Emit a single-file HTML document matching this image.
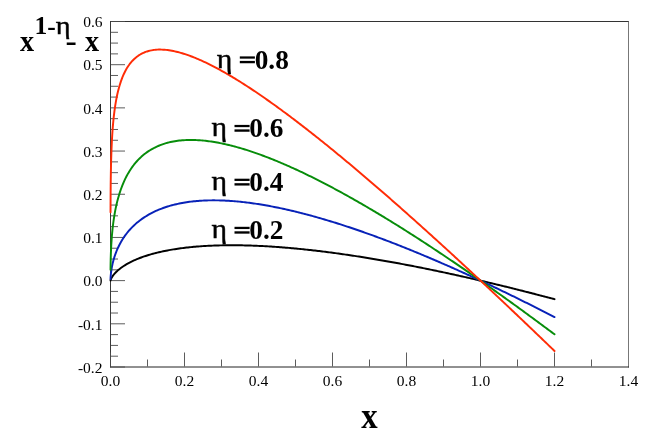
<!DOCTYPE html>
<html><head><meta charset="utf-8"><style>
html,body{margin:0;padding:0;background:#fff;}
svg{display:block;font-family:"Liberation Serif",serif;will-change:transform;opacity:0.9999;}
</style></head><body>
<svg width="654" height="444" viewBox="0 0 654 444">
<rect width="654" height="444" fill="#fff"/>
<line x1="110.0" y1="21.5" x2="629.0" y2="21.5" stroke="#333"/>
<line x1="628.5" y1="21.5" x2="628.5" y2="367.5" stroke="#777"/>
<line x1="110.0" y1="367.0" x2="629.0" y2="367.0" stroke="#222"/>
<line x1="110.5" y1="21.5" x2="110.5" y2="367.5" stroke="#3a3a3a"/>
<path d="M111.0,367.00h14 M111.0,356.20h7 M111.0,345.41h7 M111.0,334.61h7 M111.0,323.81h14 M111.0,313.02h7 M111.0,302.22h7 M111.0,291.42h7 M111.0,280.62h14 M111.0,269.83h7 M111.0,259.03h7 M111.0,248.23h7 M111.0,237.44h14 M111.0,226.64h7 M111.0,215.84h7 M111.0,205.05h7 M111.0,194.25h14 M111.0,183.45h7 M111.0,172.66h7 M111.0,161.86h7 M111.0,151.06h14 M111.0,140.27h7 M111.0,129.47h7 M111.0,118.67h7 M111.0,107.87h14 M111.0,97.08h7 M111.0,86.28h7 M111.0,75.48h7 M111.0,64.69h14 M111.0,53.89h7 M111.0,43.09h7 M111.0,32.30h7 M111.0,21.50h14 M110.50,366.5v-14 M147.50,366.5v-7 M184.50,366.5v-14 M221.50,366.5v-7 M258.50,366.5v-14 M295.50,366.5v-7 M332.50,366.5v-14 M369.50,366.5v-7 M406.50,366.5v-14 M443.50,366.5v-7 M480.50,366.5v-14 M517.50,366.5v-7 M554.50,366.5v-14 M591.50,366.5v-7" stroke="#4a4a4a" stroke-width="0.9" fill="none"/>
<path d="M110.54,280.40 L110.54,280.38 L110.54,280.36 L110.55,280.34 L110.55,280.32 L110.56,280.30 L110.56,280.28 L110.57,280.26 L110.58,280.23 L110.58,280.20 L110.59,280.17 L110.60,280.14 L110.61,280.11 L110.62,280.07 L110.63,280.03 L110.64,279.99 L110.66,279.95 L110.67,279.90 L110.69,279.85 L110.70,279.80 L110.72,279.74 L110.74,279.68 L110.77,279.61 L110.79,279.54 L110.82,279.47 L110.85,279.39 L110.88,279.31 L110.92,279.22 L110.96,279.12 L111.00,279.02 L111.05,278.91 L111.10,278.80 L111.15,278.67 L111.22,278.54 L111.28,278.41 L111.36,278.26 L111.44,278.10 L111.53,277.93 L111.62,277.76 L111.73,277.57 L111.84,277.37 L111.97,277.16 L112.11,276.93 L112.26,276.69 L112.42,276.44 L112.60,276.17 L112.80,275.89 L113.02,275.59 L113.26,275.27 L113.51,274.94 L113.80,274.58 L114.11,274.20 L114.45,273.81 L114.82,273.39 L115.22,272.95 L115.67,272.49 L116.15,272.00 L116.68,271.48 L117.26,270.94 L117.90,270.37 L119.36,269.15 L120.82,268.02 L122.28,266.98 L123.74,266.00 L125.20,265.07 L126.66,264.21 L128.12,263.38 L129.58,262.60 L131.04,261.85 L132.50,261.15 L133.96,260.47 L135.42,259.82 L136.88,259.20 L138.34,258.60 L139.80,258.03 L141.26,257.48 L142.72,256.95 L144.18,256.45 L145.64,255.96 L147.10,255.49 L148.56,255.04 L150.02,254.60 L151.48,254.18 L152.94,253.77 L154.41,253.38 L155.87,253.01 L157.33,252.64 L158.79,252.29 L160.25,251.95 L161.71,251.63 L163.17,251.31 L164.63,251.01 L166.09,250.72 L167.55,250.43 L169.01,250.16 L170.47,249.90 L171.93,249.64 L173.39,249.40 L174.85,249.17 L176.31,248.94 L177.77,248.72 L179.23,248.51 L180.69,248.31 L182.15,248.12 L183.61,247.94 L185.07,247.76 L186.53,247.59 L187.99,247.42 L189.45,247.27 L190.91,247.12 L192.37,246.98 L193.83,246.84 L195.29,246.71 L196.75,246.59 L198.21,246.47 L199.67,246.36 L201.13,246.25 L202.59,246.15 L204.05,246.06 L205.51,245.97 L206.97,245.89 L208.43,245.81 L209.89,245.74 L211.35,245.68 L212.81,245.61 L214.27,245.56 L215.73,245.51 L217.19,245.46 L218.65,245.42 L220.11,245.38 L221.57,245.35 L223.03,245.32 L224.49,245.30 L225.95,245.28 L227.42,245.26 L228.88,245.25 L230.34,245.25 L231.80,245.25 L233.26,245.25 L234.72,245.25 L236.18,245.26 L237.64,245.28 L239.10,245.30 L240.56,245.32 L242.02,245.34 L243.48,245.37 L244.94,245.41 L246.40,245.44 L247.86,245.48 L249.32,245.53 L250.78,245.57 L252.24,245.63 L253.70,245.68 L255.16,245.74 L256.62,245.80 L258.08,245.86 L259.54,245.93 L261.00,246.00 L262.46,246.07 L263.92,246.15 L265.38,246.23 L266.84,246.31 L268.30,246.40 L269.76,246.49 L271.22,246.58 L272.68,246.67 L274.14,246.77 L275.60,246.87 L277.06,246.98 L278.52,247.08 L279.98,247.19 L281.44,247.30 L282.90,247.42 L284.36,247.54 L285.82,247.66 L287.28,247.78 L288.74,247.90 L290.20,248.03 L291.66,248.16 L293.12,248.29 L294.58,248.43 L296.04,248.57 L297.50,248.71 L298.96,248.85 L300.43,249.00 L301.89,249.14 L303.35,249.29 L304.81,249.44 L306.27,249.60 L307.73,249.76 L309.19,249.92 L310.65,250.08 L312.11,250.24 L313.57,250.41 L315.03,250.57 L316.49,250.75 L317.95,250.92 L319.41,251.09 L320.87,251.27 L322.33,251.45 L323.79,251.63 L325.25,251.81 L326.71,252.00 L328.17,252.18 L329.63,252.37 L331.09,252.57 L332.55,252.76 L334.01,252.95 L335.47,253.15 L336.93,253.35 L338.39,253.55 L339.85,253.75 L341.31,253.96 L342.77,254.17 L344.23,254.37 L345.69,254.59 L347.15,254.80 L348.61,255.01 L350.07,255.23 L351.53,255.45 L352.99,255.67 L354.45,255.89 L355.91,256.11 L357.37,256.34 L358.83,256.56 L360.29,256.79 L361.75,257.02 L363.21,257.25 L364.67,257.49 L366.13,257.72 L367.59,257.96 L369.05,258.20 L370.51,258.44 L371.97,258.68 L373.44,258.92 L374.90,259.17 L376.36,259.42 L377.82,259.67 L379.28,259.92 L380.74,260.17 L382.20,260.42 L383.66,260.68 L385.12,260.93 L386.58,261.19 L388.04,261.45 L389.50,261.71 L390.96,261.97 L392.42,262.24 L393.88,262.50 L395.34,262.77 L396.80,263.04 L398.26,263.31 L399.72,263.58 L401.18,263.85 L402.64,264.12 L404.10,264.40 L405.56,264.68 L407.02,264.96 L408.48,265.24 L409.94,265.52 L411.40,265.80 L412.86,266.08 L414.32,266.37 L415.78,266.66 L417.24,266.94 L418.70,267.23 L420.16,267.52 L421.62,267.82 L423.08,268.11 L424.54,268.40 L426.00,268.70 L427.46,269.00 L428.92,269.30 L430.38,269.60 L431.84,269.90 L433.30,270.20 L434.76,270.50 L436.22,270.81 L437.68,271.12 L439.14,271.42 L440.60,271.73 L442.06,272.04 L443.52,272.35 L444.98,272.67 L446.45,272.98 L447.91,273.29 L449.37,273.61 L450.83,273.93 L452.29,274.25 L453.75,274.57 L455.21,274.89 L456.67,275.21 L458.13,275.53 L459.59,275.86 L461.05,276.18 L462.51,276.51 L463.97,276.84 L465.43,277.16 L466.89,277.49 L468.35,277.83 L469.81,278.16 L471.27,278.49 L472.73,278.83 L474.19,279.16 L475.65,279.50 L477.11,279.84 L478.57,280.18 L480.03,280.52 L481.49,280.86 L482.95,281.20 L484.41,281.54 L485.87,281.89 L487.33,282.23 L488.79,282.58 L490.25,282.93 L491.71,283.27 L493.17,283.62 L494.63,283.97 L496.09,284.33 L497.55,284.68 L499.01,285.03 L500.47,285.39 L501.93,285.74 L503.39,286.10 L504.85,286.46 L506.31,286.81 L507.77,287.17 L509.23,287.53 L510.69,287.90 L512.15,288.26 L513.61,288.62 L515.07,288.99 L516.53,289.35 L517.99,289.72 L519.46,290.09 L520.92,290.46 L522.38,290.82 L523.84,291.19 L525.30,291.57 L526.76,291.94 L528.22,292.31 L529.68,292.69 L531.14,293.06 L532.60,293.44 L534.06,293.81 L535.52,294.19 L536.98,294.57 L538.44,294.95 L539.90,295.33 L541.36,295.71 L542.82,296.09 L544.28,296.48 L545.74,296.86 L547.20,297.24 L548.66,297.63 L550.12,298.02 L551.58,298.40 L553.04,298.79 L554.50,299.18" stroke="#000000" stroke-width="1.95" fill="none" stroke-linejoin="round" stroke-linecap="round"/>
<path d="M110.54,278.95 L110.54,278.86 L110.54,278.76 L110.55,278.66 L110.55,278.55 L110.56,278.44 L110.56,278.32 L110.57,278.20 L110.58,278.07 L110.58,277.93 L110.59,277.78 L110.60,277.63 L110.61,277.47 L110.62,277.30 L110.63,277.12 L110.64,276.93 L110.66,276.74 L110.67,276.53 L110.69,276.31 L110.70,276.08 L110.72,275.83 L110.74,275.58 L110.77,275.31 L110.79,275.03 L110.82,274.73 L110.85,274.42 L110.88,274.09 L110.92,273.75 L110.96,273.39 L111.00,273.01 L111.05,272.61 L111.10,272.19 L111.15,271.75 L111.22,271.29 L111.28,270.80 L111.36,270.29 L111.44,269.76 L111.53,269.20 L111.62,268.61 L111.73,268.00 L111.84,267.36 L111.97,266.68 L112.11,265.98 L112.26,265.24 L112.42,264.46 L112.60,263.66 L112.80,262.81 L113.02,261.93 L113.26,261.01 L113.51,260.05 L113.80,259.04 L114.11,258.00 L114.45,256.91 L114.82,255.77 L115.22,254.59 L115.67,253.36 L116.15,252.08 L116.68,250.76 L117.26,249.38 L117.90,247.96 L119.36,244.95 L120.82,242.25 L122.28,239.78 L123.74,237.52 L125.20,235.43 L126.66,233.49 L128.12,231.68 L129.58,229.98 L131.04,228.39 L132.50,226.89 L133.96,225.47 L135.42,224.13 L136.88,222.86 L138.34,221.66 L139.80,220.51 L141.26,219.42 L142.72,218.39 L144.18,217.40 L145.64,216.46 L147.10,215.57 L148.56,214.71 L150.02,213.89 L151.48,213.12 L152.94,212.37 L154.41,211.66 L155.87,210.98 L157.33,210.33 L158.79,209.71 L160.25,209.12 L161.71,208.56 L163.17,208.02 L164.63,207.51 L166.09,207.02 L167.55,206.55 L169.01,206.11 L170.47,205.68 L171.93,205.28 L173.39,204.90 L174.85,204.53 L176.31,204.19 L177.77,203.86 L179.23,203.55 L180.69,203.26 L182.15,202.98 L183.61,202.72 L185.07,202.48 L186.53,202.25 L187.99,202.04 L189.45,201.84 L190.91,201.65 L192.37,201.48 L193.83,201.32 L195.29,201.17 L196.75,201.04 L198.21,200.92 L199.67,200.81 L201.13,200.72 L202.59,200.63 L204.05,200.56 L205.51,200.49 L206.97,200.44 L208.43,200.40 L209.89,200.37 L211.35,200.35 L212.81,200.34 L214.27,200.34 L215.73,200.35 L217.19,200.37 L218.65,200.39 L220.11,200.43 L221.57,200.47 L223.03,200.53 L224.49,200.59 L225.95,200.66 L227.42,200.74 L228.88,200.83 L230.34,200.92 L231.80,201.03 L233.26,201.14 L234.72,201.25 L236.18,201.38 L237.64,201.51 L239.10,201.65 L240.56,201.80 L242.02,201.95 L243.48,202.12 L244.94,202.28 L246.40,202.46 L247.86,202.64 L249.32,202.83 L250.78,203.02 L252.24,203.22 L253.70,203.43 L255.16,203.64 L256.62,203.86 L258.08,204.08 L259.54,204.31 L261.00,204.55 L262.46,204.79 L263.92,205.04 L265.38,205.29 L266.84,205.55 L268.30,205.81 L269.76,206.08 L271.22,206.36 L272.68,206.64 L274.14,206.92 L275.60,207.21 L277.06,207.50 L278.52,207.80 L279.98,208.11 L281.44,208.42 L282.90,208.73 L284.36,209.05 L285.82,209.37 L287.28,209.70 L288.74,210.03 L290.20,210.37 L291.66,210.71 L293.12,211.06 L294.58,211.41 L296.04,211.76 L297.50,212.12 L298.96,212.49 L300.43,212.85 L301.89,213.22 L303.35,213.60 L304.81,213.98 L306.27,214.36 L307.73,214.75 L309.19,215.14 L310.65,215.53 L312.11,215.93 L313.57,216.34 L315.03,216.74 L316.49,217.15 L317.95,217.57 L319.41,217.98 L320.87,218.40 L322.33,218.83 L323.79,219.26 L325.25,219.69 L326.71,220.12 L328.17,220.56 L329.63,221.00 L331.09,221.45 L332.55,221.90 L334.01,222.35 L335.47,222.80 L336.93,223.26 L338.39,223.72 L339.85,224.19 L341.31,224.65 L342.77,225.13 L344.23,225.60 L345.69,226.08 L347.15,226.56 L348.61,227.04 L350.07,227.53 L351.53,228.01 L352.99,228.51 L354.45,229.00 L355.91,229.50 L357.37,230.00 L358.83,230.50 L360.29,231.01 L361.75,231.52 L363.21,232.03 L364.67,232.55 L366.13,233.06 L367.59,233.58 L369.05,234.11 L370.51,234.63 L371.97,235.16 L373.44,235.69 L374.90,236.22 L376.36,236.76 L377.82,237.30 L379.28,237.84 L380.74,238.38 L382.20,238.93 L383.66,239.48 L385.12,240.03 L386.58,240.58 L388.04,241.14 L389.50,241.70 L390.96,242.26 L392.42,242.82 L393.88,243.38 L395.34,243.95 L396.80,244.52 L398.26,245.10 L399.72,245.67 L401.18,246.25 L402.64,246.83 L404.10,247.41 L405.56,247.99 L407.02,248.58 L408.48,249.17 L409.94,249.76 L411.40,250.35 L412.86,250.94 L414.32,251.54 L415.78,252.14 L417.24,252.74 L418.70,253.34 L420.16,253.95 L421.62,254.56 L423.08,255.16 L424.54,255.78 L426.00,256.39 L427.46,257.01 L428.92,257.62 L430.38,258.24 L431.84,258.86 L433.30,259.49 L434.76,260.11 L436.22,260.74 L437.68,261.37 L439.14,262.00 L440.60,262.63 L442.06,263.27 L443.52,263.90 L444.98,264.54 L446.45,265.18 L447.91,265.83 L449.37,266.47 L450.83,267.12 L452.29,267.76 L453.75,268.41 L455.21,269.07 L456.67,269.72 L458.13,270.37 L459.59,271.03 L461.05,271.69 L462.51,272.35 L463.97,273.01 L465.43,273.68 L466.89,274.34 L468.35,275.01 L469.81,275.68 L471.27,276.35 L472.73,277.02 L474.19,277.69 L475.65,278.37 L477.11,279.05 L478.57,279.73 L480.03,280.41 L481.49,281.09 L482.95,281.77 L484.41,282.46 L485.87,283.14 L487.33,283.83 L488.79,284.52 L490.25,285.21 L491.71,285.91 L493.17,286.60 L494.63,287.30 L496.09,288.00 L497.55,288.69 L499.01,289.40 L500.47,290.10 L501.93,290.80 L503.39,291.51 L504.85,292.21 L506.31,292.92 L507.77,293.63 L509.23,294.34 L510.69,295.05 L512.15,295.77 L513.61,296.48 L515.07,297.20 L516.53,297.92 L517.99,298.64 L519.46,299.36 L520.92,300.08 L522.38,300.81 L523.84,301.53 L525.30,302.26 L526.76,302.99 L528.22,303.72 L529.68,304.45 L531.14,305.18 L532.60,305.91 L534.06,306.65 L535.52,307.38 L536.98,308.12 L538.44,308.86 L539.90,309.60 L541.36,310.34 L542.82,311.09 L544.28,311.83 L545.74,312.58 L547.20,313.32 L548.66,314.07 L550.12,314.82 L551.58,315.57 L553.04,316.32 L554.50,317.07" stroke="#0822b8" stroke-width="1.95" fill="none" stroke-linejoin="round" stroke-linecap="round"/>
<path d="M110.54,269.82 L110.54,269.43 L110.54,269.02 L110.55,268.60 L110.55,268.16 L110.56,267.71 L110.56,267.24 L110.57,266.76 L110.58,266.25 L110.58,265.73 L110.59,265.19 L110.60,264.64 L110.61,264.06 L110.62,263.46 L110.63,262.84 L110.64,262.20 L110.66,261.53 L110.67,260.85 L110.69,260.13 L110.70,259.40 L110.72,258.63 L110.74,257.84 L110.77,257.03 L110.79,256.18 L110.82,255.31 L110.85,254.40 L110.88,253.47 L110.92,252.50 L110.96,251.50 L111.00,250.46 L111.05,249.40 L111.10,248.29 L111.15,247.15 L111.22,245.97 L111.28,244.75 L111.36,243.49 L111.44,242.19 L111.53,240.84 L111.62,239.46 L111.73,238.03 L111.84,236.55 L111.97,235.03 L112.11,233.46 L112.26,231.84 L112.42,230.18 L112.60,228.46 L112.80,226.69 L113.02,224.87 L113.26,223.00 L113.51,221.08 L113.80,219.11 L114.11,217.08 L114.45,214.99 L114.82,212.86 L115.22,210.67 L115.67,208.43 L116.15,206.13 L116.68,203.79 L117.26,201.39 L117.90,198.95 L119.36,193.90 L120.82,189.50 L122.28,185.60 L123.74,182.10 L125.20,178.93 L126.66,176.05 L128.12,173.40 L129.58,170.97 L131.04,168.73 L132.50,166.65 L133.96,164.72 L135.42,162.92 L136.88,161.24 L138.34,159.68 L139.80,158.21 L141.26,156.84 L142.72,155.55 L144.18,154.35 L145.64,153.22 L147.10,152.16 L148.56,151.16 L150.02,150.23 L151.48,149.35 L152.94,148.53 L154.41,147.76 L155.87,147.04 L157.33,146.36 L158.79,145.73 L160.25,145.15 L161.71,144.60 L163.17,144.09 L164.63,143.61 L166.09,143.17 L167.55,142.77 L169.01,142.40 L170.47,142.05 L171.93,141.74 L173.39,141.46 L174.85,141.20 L176.31,140.97 L177.77,140.77 L179.23,140.59 L180.69,140.43 L182.15,140.30 L183.61,140.19 L185.07,140.10 L186.53,140.03 L187.99,139.99 L189.45,139.96 L190.91,139.95 L192.37,139.96 L193.83,139.99 L195.29,140.03 L196.75,140.10 L198.21,140.18 L199.67,140.27 L201.13,140.38 L202.59,140.51 L204.05,140.65 L205.51,140.81 L206.97,140.98 L208.43,141.16 L209.89,141.36 L211.35,141.57 L212.81,141.79 L214.27,142.03 L215.73,142.28 L217.19,142.54 L218.65,142.81 L220.11,143.09 L221.57,143.39 L223.03,143.70 L224.49,144.01 L225.95,144.34 L227.42,144.68 L228.88,145.03 L230.34,145.39 L231.80,145.76 L233.26,146.13 L234.72,146.52 L236.18,146.92 L237.64,147.32 L239.10,147.74 L240.56,148.16 L242.02,148.59 L243.48,149.03 L244.94,149.48 L246.40,149.94 L247.86,150.40 L249.32,150.88 L250.78,151.36 L252.24,151.85 L253.70,152.34 L255.16,152.84 L256.62,153.36 L258.08,153.87 L259.54,154.40 L261.00,154.93 L262.46,155.47 L263.92,156.01 L265.38,156.56 L266.84,157.12 L268.30,157.69 L269.76,158.26 L271.22,158.83 L272.68,159.42 L274.14,160.01 L275.60,160.60 L277.06,161.20 L278.52,161.81 L279.98,162.42 L281.44,163.04 L282.90,163.66 L284.36,164.29 L285.82,164.93 L287.28,165.57 L288.74,166.21 L290.20,166.86 L291.66,167.52 L293.12,168.18 L294.58,168.84 L296.04,169.51 L297.50,170.19 L298.96,170.87 L300.43,171.55 L301.89,172.24 L303.35,172.94 L304.81,173.64 L306.27,174.34 L307.73,175.05 L309.19,175.76 L310.65,176.48 L312.11,177.20 L313.57,177.92 L315.03,178.65 L316.49,179.38 L317.95,180.12 L319.41,180.86 L320.87,181.61 L322.33,182.36 L323.79,183.11 L325.25,183.87 L326.71,184.63 L328.17,185.40 L329.63,186.17 L331.09,186.94 L332.55,187.71 L334.01,188.49 L335.47,189.28 L336.93,190.07 L338.39,190.86 L339.85,191.65 L341.31,192.45 L342.77,193.25 L344.23,194.05 L345.69,194.86 L347.15,195.67 L348.61,196.49 L350.07,197.31 L351.53,198.13 L352.99,198.95 L354.45,199.78 L355.91,200.61 L357.37,201.44 L358.83,202.28 L360.29,203.12 L361.75,203.96 L363.21,204.81 L364.67,205.66 L366.13,206.51 L367.59,207.36 L369.05,208.22 L370.51,209.08 L371.97,209.95 L373.44,210.81 L374.90,211.68 L376.36,212.55 L377.82,213.43 L379.28,214.30 L380.74,215.18 L382.20,216.07 L383.66,216.95 L385.12,217.84 L386.58,218.73 L388.04,219.62 L389.50,220.52 L390.96,221.42 L392.42,222.32 L393.88,223.22 L395.34,224.13 L396.80,225.03 L398.26,225.94 L399.72,226.86 L401.18,227.77 L402.64,228.69 L404.10,229.61 L405.56,230.53 L407.02,231.46 L408.48,232.38 L409.94,233.31 L411.40,234.24 L412.86,235.18 L414.32,236.11 L415.78,237.05 L417.24,237.99 L418.70,238.94 L420.16,239.88 L421.62,240.83 L423.08,241.78 L424.54,242.73 L426.00,243.68 L427.46,244.64 L428.92,245.59 L430.38,246.55 L431.84,247.51 L433.30,248.48 L434.76,249.44 L436.22,250.41 L437.68,251.38 L439.14,252.35 L440.60,253.32 L442.06,254.30 L443.52,255.28 L444.98,256.26 L446.45,257.24 L447.91,258.22 L449.37,259.20 L450.83,260.19 L452.29,261.18 L453.75,262.17 L455.21,263.16 L456.67,264.16 L458.13,265.15 L459.59,266.15 L461.05,267.15 L462.51,268.15 L463.97,269.15 L465.43,270.16 L466.89,271.16 L468.35,272.17 L469.81,273.18 L471.27,274.19 L472.73,275.21 L474.19,276.22 L475.65,277.24 L477.11,278.25 L478.57,279.27 L480.03,280.30 L481.49,281.32 L482.95,282.34 L484.41,283.37 L485.87,284.40 L487.33,285.43 L488.79,286.46 L490.25,287.49 L491.71,288.52 L493.17,289.56 L494.63,290.60 L496.09,291.63 L497.55,292.67 L499.01,293.72 L500.47,294.76 L501.93,295.80 L503.39,296.85 L504.85,297.90 L506.31,298.95 L507.77,300.00 L509.23,301.05 L510.69,302.10 L512.15,303.16 L513.61,304.21 L515.07,305.27 L516.53,306.33 L517.99,307.39 L519.46,308.45 L520.92,309.51 L522.38,310.58 L523.84,311.64 L525.30,312.71 L526.76,313.78 L528.22,314.85 L529.68,315.92 L531.14,316.99 L532.60,318.07 L534.06,319.14 L535.52,320.22 L536.98,321.30 L538.44,322.38 L539.90,323.46 L541.36,324.54 L542.82,325.62 L544.28,326.70 L545.74,327.79 L547.20,328.88 L548.66,329.96 L550.12,331.05 L551.58,332.14 L553.04,333.23 L554.50,334.33" stroke="#078d0a" stroke-width="1.95" fill="none" stroke-linejoin="round" stroke-linecap="round"/>
<path d="M110.54,212.22 L110.54,210.98 L110.54,209.73 L110.55,208.44 L110.55,207.14 L110.56,205.81 L110.56,204.46 L110.57,203.09 L110.58,201.69 L110.58,200.27 L110.59,198.82 L110.60,197.34 L110.61,195.84 L110.62,194.31 L110.63,192.76 L110.64,191.18 L110.66,189.57 L110.67,187.94 L110.69,186.27 L110.70,184.58 L110.72,182.85 L110.74,181.10 L110.77,179.32 L110.79,177.51 L110.82,175.67 L110.85,173.79 L110.88,171.89 L110.92,169.95 L110.96,167.98 L111.00,165.98 L111.05,163.95 L111.10,161.88 L111.15,159.78 L111.22,157.65 L111.28,155.48 L111.36,153.29 L111.44,151.05 L111.53,148.79 L111.62,146.49 L111.73,144.16 L111.84,141.79 L111.97,139.40 L112.11,136.97 L112.26,134.51 L112.42,132.01 L112.60,129.49 L112.80,126.94 L113.02,124.36 L113.26,121.75 L113.51,119.11 L113.80,116.45 L114.11,113.77 L114.45,111.07 L114.82,108.34 L115.22,105.60 L115.67,102.85 L116.15,100.08 L116.68,97.31 L117.26,94.54 L117.90,91.76 L119.36,86.23 L120.82,81.59 L122.28,77.63 L123.74,74.21 L125.20,71.22 L126.66,68.59 L128.12,66.27 L129.58,64.20 L131.04,62.36 L132.50,60.72 L133.96,59.24 L135.42,57.93 L136.88,56.75 L138.34,55.69 L139.80,54.75 L141.26,53.91 L142.72,53.17 L144.18,52.52 L145.64,51.94 L147.10,51.44 L148.56,51.01 L150.02,50.64 L151.48,50.34 L152.94,50.09 L154.41,49.89 L155.87,49.74 L157.33,49.64 L158.79,49.59 L160.25,49.58 L161.71,49.60 L163.17,49.67 L164.63,49.77 L166.09,49.90 L167.55,50.07 L169.01,50.27 L170.47,50.50 L171.93,50.75 L173.39,51.04 L174.85,51.35 L176.31,51.68 L177.77,52.04 L179.23,52.43 L180.69,52.83 L182.15,53.26 L183.61,53.70 L185.07,54.17 L186.53,54.66 L187.99,55.16 L189.45,55.68 L190.91,56.22 L192.37,56.78 L193.83,57.35 L195.29,57.94 L196.75,58.55 L198.21,59.17 L199.67,59.80 L201.13,60.45 L202.59,61.11 L204.05,61.78 L205.51,62.47 L206.97,63.17 L208.43,63.88 L209.89,64.60 L211.35,65.33 L212.81,66.08 L214.27,66.84 L215.73,67.60 L217.19,68.38 L218.65,69.17 L220.11,69.97 L221.57,70.77 L223.03,71.59 L224.49,72.42 L225.95,73.25 L227.42,74.09 L228.88,74.95 L230.34,75.81 L231.80,76.67 L233.26,77.55 L234.72,78.43 L236.18,79.33 L237.64,80.23 L239.10,81.13 L240.56,82.05 L242.02,82.97 L243.48,83.90 L244.94,84.83 L246.40,85.77 L247.86,86.72 L249.32,87.68 L250.78,88.64 L252.24,89.60 L253.70,90.58 L255.16,91.55 L256.62,92.54 L258.08,93.53 L259.54,94.53 L261.00,95.53 L262.46,96.53 L263.92,97.55 L265.38,98.56 L266.84,99.59 L268.30,100.62 L269.76,101.65 L271.22,102.69 L272.68,103.73 L274.14,104.78 L275.60,105.83 L277.06,106.88 L278.52,107.95 L279.98,109.01 L281.44,110.08 L282.90,111.16 L284.36,112.23 L285.82,113.32 L287.28,114.40 L288.74,115.49 L290.20,116.59 L291.66,117.69 L293.12,118.79 L294.58,119.90 L296.04,121.01 L297.50,122.12 L298.96,123.24 L300.43,124.36 L301.89,125.49 L303.35,126.61 L304.81,127.75 L306.27,128.88 L307.73,130.02 L309.19,131.16 L310.65,132.31 L312.11,133.46 L313.57,134.61 L315.03,135.76 L316.49,136.92 L317.95,138.08 L319.41,139.25 L320.87,140.42 L322.33,141.59 L323.79,142.76 L325.25,143.94 L326.71,145.11 L328.17,146.30 L329.63,147.48 L331.09,148.67 L332.55,149.86 L334.01,151.05 L335.47,152.25 L336.93,153.45 L338.39,154.65 L339.85,155.85 L341.31,157.06 L342.77,158.26 L344.23,159.47 L345.69,160.69 L347.15,161.90 L348.61,163.12 L350.07,164.34 L351.53,165.57 L352.99,166.79 L354.45,168.02 L355.91,169.25 L357.37,170.48 L358.83,171.71 L360.29,172.95 L361.75,174.19 L363.21,175.43 L364.67,176.67 L366.13,177.92 L367.59,179.17 L369.05,180.42 L370.51,181.67 L371.97,182.92 L373.44,184.18 L374.90,185.43 L376.36,186.69 L377.82,187.95 L379.28,189.22 L380.74,190.48 L382.20,191.75 L383.66,193.02 L385.12,194.29 L386.58,195.56 L388.04,196.84 L389.50,198.11 L390.96,199.39 L392.42,200.67 L393.88,201.95 L395.34,203.23 L396.80,204.52 L398.26,205.81 L399.72,207.10 L401.18,208.39 L402.64,209.68 L404.10,210.97 L405.56,212.27 L407.02,213.56 L408.48,214.86 L409.94,216.16 L411.40,217.46 L412.86,218.76 L414.32,220.07 L415.78,221.38 L417.24,222.68 L418.70,223.99 L420.16,225.30 L421.62,226.61 L423.08,227.93 L424.54,229.24 L426.00,230.56 L427.46,231.88 L428.92,233.20 L430.38,234.52 L431.84,235.84 L433.30,237.16 L434.76,238.49 L436.22,239.81 L437.68,241.14 L439.14,242.47 L440.60,243.80 L442.06,245.13 L443.52,246.47 L444.98,247.80 L446.45,249.14 L447.91,250.47 L449.37,251.81 L450.83,253.15 L452.29,254.49 L453.75,255.83 L455.21,257.17 L456.67,258.52 L458.13,259.86 L459.59,261.21 L461.05,262.56 L462.51,263.91 L463.97,265.26 L465.43,266.61 L466.89,267.96 L468.35,269.32 L469.81,270.67 L471.27,272.03 L472.73,273.38 L474.19,274.74 L475.65,276.10 L477.11,277.46 L478.57,278.82 L480.03,280.19 L481.49,281.55 L482.95,282.91 L484.41,284.28 L485.87,285.65 L487.33,287.02 L488.79,288.38 L490.25,289.75 L491.71,291.13 L493.17,292.50 L494.63,293.87 L496.09,295.24 L497.55,296.62 L499.01,298.00 L500.47,299.37 L501.93,300.75 L503.39,302.13 L504.85,303.51 L506.31,304.89 L507.77,306.27 L509.23,307.66 L510.69,309.04 L512.15,310.42 L513.61,311.81 L515.07,313.20 L516.53,314.58 L517.99,315.97 L519.46,317.36 L520.92,318.75 L522.38,320.14 L523.84,321.53 L525.30,322.93 L526.76,324.32 L528.22,325.72 L529.68,327.11 L531.14,328.51 L532.60,329.90 L534.06,331.30 L535.52,332.70 L536.98,334.10 L538.44,335.50 L539.90,336.90 L541.36,338.31 L542.82,339.71 L544.28,341.11 L545.74,342.52 L547.20,343.92 L548.66,345.33 L550.12,346.74 L551.58,348.14 L553.04,349.55 L554.50,350.96" stroke="#ff2c06" stroke-width="1.95" fill="none" stroke-linejoin="round" stroke-linecap="round"/>
<text x="102.50" y="372.70" font-size="15.5" text-anchor="end">-0.2</text>
<text x="102.50" y="329.51" font-size="15.5" text-anchor="end">-0.1</text>
<text x="102.50" y="286.32" font-size="15.5" text-anchor="end">0.0</text>
<text x="102.50" y="243.14" font-size="15.5" text-anchor="end">0.1</text>
<text x="102.50" y="199.95" font-size="15.5" text-anchor="end">0.2</text>
<text x="102.50" y="156.76" font-size="15.5" text-anchor="end">0.3</text>
<text x="102.50" y="113.57" font-size="15.5" text-anchor="end">0.4</text>
<text x="102.50" y="70.39" font-size="15.5" text-anchor="end">0.5</text>
<text x="102.50" y="27.20" font-size="15.5" text-anchor="end">0.6</text>
<text x="110.50" y="386.10" font-size="15.5" text-anchor="middle">0.0</text>
<text x="184.50" y="386.10" font-size="15.5" text-anchor="middle">0.2</text>
<text x="258.50" y="386.10" font-size="15.5" text-anchor="middle">0.4</text>
<text x="332.50" y="386.10" font-size="15.5" text-anchor="middle">0.6</text>
<text x="406.50" y="386.10" font-size="15.5" text-anchor="middle">0.8</text>
<text x="480.50" y="386.10" font-size="15.5" text-anchor="middle">1.0</text>
<text x="554.50" y="386.10" font-size="15.5" text-anchor="middle">1.2</text>
<text x="628.50" y="386.10" font-size="15.5" text-anchor="middle">1.4</text>
<text transform="translate(361.20,427.70) scale(0.91,1)" font-size="36" font-weight="bold">x</text>
<text transform="translate(20.10,50.80) scale(0.955,1)" font-size="29.5" font-weight="bold">x</text>
<text x="34.50" y="33.90" font-size="25.6" font-weight="bold">1</text>
<text x="47.30" y="34.70" font-size="25.6" font-weight="bold">-</text>
<text transform="translate(55.80,33.50) scale(1.14,1)" font-size="24.7" stroke="#000" stroke-width="0.45">η</text>
<text transform="translate(65.50,51.20) scale(1.15,1)" font-size="29.5" font-weight="bold">-</text>
<text transform="translate(85.10,50.70) scale(0.955,1)" font-size="29.5" font-weight="bold">x</text>
<text transform="translate(216.69,67.90) scale(1.09,1)" font-size="27.3" stroke="#000" stroke-width="0.45">η</text>
<rect x="239.80" y="56.40" width="15.1" height="2.25"/>
<rect x="239.80" y="60.90" width="15.1" height="2.35"/>
<text x="254.66" y="68.50" font-size="27.3" font-weight="bold">0.8</text>
<text transform="translate(211.39,136.40) scale(1.09,1)" font-size="27.3" stroke="#000" stroke-width="0.45">η</text>
<rect x="234.50" y="124.90" width="15.1" height="2.25"/>
<rect x="234.50" y="129.40" width="15.1" height="2.35"/>
<text x="249.36" y="137.00" font-size="27.3" font-weight="bold">0.6</text>
<text transform="translate(211.39,190.20) scale(1.09,1)" font-size="27.3" stroke="#000" stroke-width="0.45">η</text>
<rect x="234.50" y="178.70" width="15.1" height="2.25"/>
<rect x="234.50" y="183.20" width="15.1" height="2.35"/>
<text x="249.36" y="190.80" font-size="27.3" font-weight="bold">0.4</text>
<text transform="translate(211.39,238.30) scale(1.09,1)" font-size="27.3" stroke="#000" stroke-width="0.45">η</text>
<rect x="234.50" y="226.80" width="15.1" height="2.25"/>
<rect x="234.50" y="231.30" width="15.1" height="2.35"/>
<text x="249.36" y="238.90" font-size="27.3" font-weight="bold">0.2</text>
</svg>
</body></html>
